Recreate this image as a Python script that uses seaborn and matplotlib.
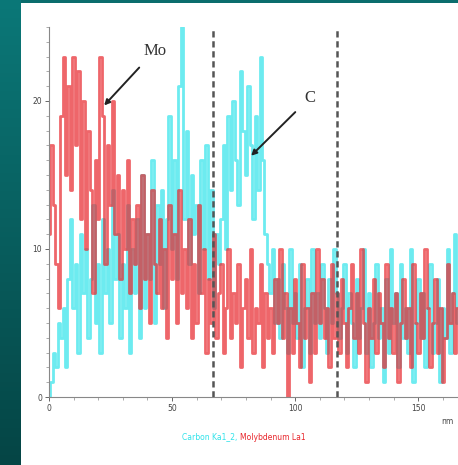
import numpy as np
import pandas as pd
import matplotlib
matplotlib.use("Agg")
import matplotlib.pyplot as plt
from matplotlib.ticker import MultipleLocator
from matplotlib.colors import LinearSegmentedColormap
import seaborn as sns

# ---- data (counts vs distance, nm) ----
distance_nm = list(range(0, 167))
carbon_ka = [
    0, 1, 3, 2, 5, 4, 6, 2, 8, 12, 6, 9, 3, 11, 7, 10, 4, 8, 13, 5,
    9, 3, 12, 7, 10, 5, 14, 8, 11, 4, 9, 6, 13, 3, 10, 7, 12, 4, 15, 6,
    11, 8, 16, 5, 13, 9, 14, 6, 12, 19, 10, 16, 8, 21, 25, 12, 18, 9, 15, 11,
    13, 7, 16, 10, 17, 8, 14, 6, 11, 9, 12, 17, 10, 19, 14, 20, 16, 13, 22, 18,
    15, 21, 17, 12, 19, 14, 23, 16, 11, 9, 7, 10, 5, 8, 4, 9, 6, 3, 10, 5,
    7, 4, 9, 2, 6, 8, 3, 10, 5, 7, 4, 9, 6, 3, 8, 5, 10, 7, 4, 6,
    9, 3, 7, 5, 2, 8, 4, 6, 10, 3, 7, 2, 5, 9, 4, 6, 1, 8, 3, 10,
    5, 7, 2, 9, 4, 6, 3, 10, 1, 5, 8, 4, 7, 2, 6, 9, 3, 5, 8, 1,
    6, 4, 10, 3, 7, 11, 5,
]
molybdenum_la = [
    11, 17, 13, 9, 6, 19, 23, 15, 21, 14, 23, 17, 22, 12, 20, 10, 18, 14, 7, 16,
    12, 23, 19, 9, 17, 13, 20, 11, 15, 8, 14, 10, 16, 7, 12, 9, 13, 6, 15, 8,
    11, 5, 14, 9, 7, 12, 6, 10, 4, 13, 8, 11, 5, 14, 7, 10, 6, 12, 4, 9,
    5, 13, 7, 10, 3, 8, 5, 11, 4, 7, 9, 3, 6, 10, 4, 7, 5, 9, 2, 6,
    8, 4, 10, 3, 6, 5, 9, 2, 7, 4, 6, 3, 8, 5, 10, 4, 7, 0, 6, 3,
    8, 5, 2, 9, 4, 6, 1, 7, 3, 10, 5, 8, 4, 6, 2, 9, 4, 7, 3, 8,
    5, 2, 6, 9, 4, 7, 3, 10, 5, 1, 6, 4, 8, 3, 7, 5, 2, 9, 4, 6,
    3, 7, 1, 5, 8, 4, 6, 2, 9, 5, 3, 7, 4, 10, 6, 2, 5, 8, 3, 6,
    1, 4, 9, 5, 7, 3, 6,
]
boundary_nm = [66.7, 117.0]
series_names = ["Carbon Ka1_2", "Molybdenum La1"]
series_colors = ["#2fe3ea", "#e8252b"]
y_major = [0, 10, 20]
x_major = [0, 50, 100, 150]

df = pd.DataFrame({
    "nm": distance_nm * 2,
    "counts": carbon_ka + molybdenum_la,
    "element": [series_names[0]] * len(carbon_ka) + [series_names[1]] * len(molybdenum_la),
})

W, H = 458, 465
fig = plt.figure(figsize=(W / 100, H / 100), dpi=100)
fig.patch.set_facecolor("#0b6d6d")

# left gradient strip
bg = fig.add_axes([0, 0, 21 / W, 1], zorder=-2)
grad = np.linspace(0, 1, 256).reshape(-1, 1)
cmap = LinearSegmentedColormap.from_list("teal", ["#0b7878", "#054545"])
bg.imshow(grad, aspect="auto", cmap=cmap, extent=[0, 1, 0, 1], origin="upper")
bg.set_axis_off()
# white panel
panel = fig.add_axes([21 / W, 0, 1 - 21 / W, (H - 3) / H], zorder=-1)
panel.set_axis_off()
panel.add_patch(plt.Rectangle((0, 0), 1, 1, transform=panel.transAxes,
                              facecolor="white", edgecolor="none"))

ax = fig.add_axes([49 / W, 68 / H, (W - 49) / W, 370 / H], zorder=1)
ax.set_facecolor("none")
sns.lineplot(data=df, x="nm", y="counts", hue="element", palette=series_colors,
             hue_order=series_names, drawstyle="steps-mid", linewidth=2.0,
             alpha=0.7, legend=False, ax=ax, estimator=None)

for b in boundary_nm:
    ax.axvline(b, color="#555555", lw=1.8, ls=(0, (2.5, 1.5)), zorder=5)

ax.set_xlim(0, (W - 49) / 2.462)
ax.set_ylim(0, 25)
ax.set_xticks(x_major)
ax.set_yticks(y_major)
ax.xaxis.set_minor_locator(MultipleLocator(10))
ax.yaxis.set_minor_locator(MultipleLocator(1))
ax.tick_params(axis="both", which="major", labelsize=5.5, length=3, width=0.7,
               colors="#666666", labelcolor="#444444", pad=2)
ax.tick_params(axis="both", which="minor", length=2, width=0.5, colors="#888888")
for s in ["top", "right"]:
    ax.spines[s].set_visible(False)
for s in ["left", "bottom"]:
    ax.spines[s].set_color("#888888")
    ax.spines[s].set_linewidth(0.8)
ax.set_xlabel("")
ax.set_ylabel("")

serif = ["Liberation Serif", "DejaVu Serif"]
ax.annotate("Mo", xy=(22.4, 19.7), xytext=(43.0, 23.4), fontsize=12,
            family=serif, color="#333333", ha="center", va="center",
            arrowprops=dict(arrowstyle="-|>", color="#222222", lw=1.4,
                            shrinkA=6, shrinkB=0, mutation_scale=8))
ax.annotate("C", xy=(82.1, 16.3), xytext=(105.8, 20.2), fontsize=12,
            family=serif, color="#333333", ha="center", va="center",
            arrowprops=dict(arrowstyle="-|>", color="#222222", lw=1.4,
                            shrinkA=6, shrinkB=0, mutation_scale=8))

# legend-like caption
fig.text(240 / W, 1 - 437 / H, series_names[0] + ", ", color=series_colors[0],
         fontsize=5.5, ha="right", va="center")
fig.text(240 / W, 1 - 437 / H, series_names[1], color=series_colors[1],
         fontsize=5.5, ha="left", va="center")
fig.text(447 / W, 1 - 422 / H, "nm", color="#444444", fontsize=5.5,
         ha="center", va="center")

fig.savefig("out.png", dpi=100, facecolor=fig.get_facecolor())
